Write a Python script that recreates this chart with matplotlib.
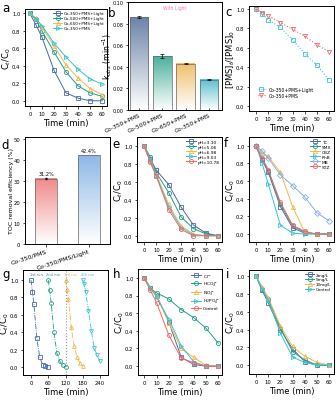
import numpy as np
import matplotlib
matplotlib.use("Agg")
import matplotlib.pyplot as plt
from matplotlib.colors import LinearSegmentedColormap

# colours
NAVY = "#4a6aa6"
TEAL = "#239e8c"
ORANGE = "#f2b84b"
CYAN = "#3cc3d2"
RED = "#f0686b"
LBLUE = "#86aee6"

t = [0, 5, 10, 20, 30, 40, 50, 60]

# panel a
a_labels = ["Co-350+PMS+Light", "Co-500+PMS+Light", "Co-650+PMS+Light", "Co-350+PMS"]
a_350L = [1.0, 0.87, 0.73, 0.35, 0.09, 0.03, 0.0, 0.0]
a_500L = [1.0, 0.93, 0.80, 0.56, 0.33, 0.17, 0.09, 0.05]
a_650L = [1.0, 0.95, 0.84, 0.63, 0.41, 0.26, 0.14, 0.07]
a_350 = [1.0, 0.94, 0.86, 0.66, 0.50, 0.36, 0.25, 0.19]

# panel b
b_labels = ["Co-350+PMS", "Co-500+PMS", "Co-650+PMS", "Co-350+PMS"]
b_k = [0.086, 0.050, 0.043, 0.028]
b_err = [0.0007, 0.0015, 0.0004, 0.0004]

# panel c
c_labels = ["Co-350+PMS+Light", "Co-350+PMS"]
c_light = [1.0, 0.95, 0.89, 0.81, 0.68, 0.54, 0.42, 0.27]
c_dark = [1.0, 0.96, 0.93, 0.86, 0.79, 0.72, 0.63, 0.56]

# panel d
d_labels = ["Co-350/PMS", "Co-350/PMS/Light"]
d_toc = [31.2, 42.4]

# panel e
e_labels = ["pH=3.10", "pH=5.06", "pH=6.98", "pH=9.03", "pH=10.78"]
e_vals = [
    [1.0, 0.85, 0.73, 0.57, 0.32, 0.12, 0.03, 0.0],
    [1.0, 0.88, 0.70, 0.48, 0.21, 0.08, 0.02, 0.0],
    [1.0, 0.83, 0.68, 0.35, 0.11, 0.02, 0.0, 0.0],
    [1.0, 0.84, 0.67, 0.32, 0.09, 0.01, 0.0, 0.0],
    [1.0, 0.82, 0.66, 0.29, 0.07, 0.0, 0.0, 0.0],
]

# panel f
f_labels = ["TC", "SMX", "CBZ", "RhB", "MB", "STZ"]
f_vals = [
    [1.0, 0.84, 0.70, 0.31, 0.07, 0.01, 0.0, 0.0],
    [1.0, 0.85, 0.72, 0.34, 0.09, 0.02, 0.0, 0.0],
    [1.0, 0.92, 0.88, 0.70, 0.31, 0.02, 0.0, 0.0],
    [1.0, 0.80, 0.57, 0.10, 0.01, 0.0, 0.0, 0.0],
    [1.0, 0.94, 0.86, 0.67, 0.55, 0.42, 0.24, 0.15],
    [1.0, 0.86, 0.73, 0.36, 0.10, 0.03, 0.0, 0.0],
]

# panel g (cycling runs)
g_labels = ["1st run", "2nd run", "3rd run", "4th run"]
g_start = [0, 60, 120, 180]
g_vals = [
    [1.0, 0.86, 0.72, 0.34, 0.12, 0.03, 0.01, 0.0],
    [1.0, 0.88, 0.74, 0.40, 0.16, 0.07, 0.02, 0.0],
    [1.0, 0.90, 0.78, 0.46, 0.24, 0.12, 0.05, 0.01],
    [1.0, 0.96, 0.86, 0.65, 0.42, 0.22, 0.14, 0.07],
]

# panel h
h_labels = ["Cl$^-$", "HCO$_3^-$", "NO$_3^-$", "H$_2$PO$_4^-$", "Control"]
h_vals = [
    [1.0, 0.88, 0.80, 0.50, 0.10, 0.02, 0.0, 0.0],
    [1.0, 0.88, 0.83, 0.76, 0.64, 0.55, 0.43, 0.26],
    [1.0, 0.88, 0.80, 0.49, 0.20, 0.10, 0.01, 0.0],
    [1.0, 0.89, 0.78, 0.53, 0.23, 0.05, 0.0, 0.0],
    [1.0, 0.86, 0.72, 0.35, 0.09, 0.04, 0.0, 0.0],
]

# panel i
i_labels = ["2mg/L", "5mg/L", "10mg/L", "Control"]
i_vals = [
    [1.0, 0.84, 0.70, 0.40, 0.18, 0.04, 0.0, 0.0],
    [1.0, 0.86, 0.74, 0.42, 0.15, 0.06, 0.0, 0.0],
    [1.0, 0.88, 0.76, 0.44, 0.21, 0.10, 0.03, 0.0],
    [1.0, 0.86, 0.73, 0.36, 0.09, 0.03, 0.0, 0.0],
]

plt.rcParams["font.family"] = "DejaVu Sans"
plt.rcParams["axes.linewidth"] = 0.7

W, H = 336, 402
fig = plt.figure(figsize=(W / 100, H / 100), dpi=100)

TICK_FS = 3.8
LAB_FS = 6


def make_ax(left, top, right, bottom):
    ax = fig.add_axes([left / W, 1 - bottom / H, (right - left) / W, (bottom - top) / H])
    ax._px_w = right - left
    return ax


def style(ax, fs=TICK_FS):
    ax.tick_params(labelsize=fs, length=1.8, width=0.5, pad=1.5)


def place_ylabel(ax, gap=12):
    # right edge of the rotated label sits `gap` px left of the spine
    ax.yaxis.set_label_coords(-gap / ax._px_w, 0.5)


def curves(ax, series, labels, colors, markers, ms=3, lw=0.7):
    for y, lab, c, m in zip(series, labels, colors, markers):
        ax.plot(t, y, color=c, marker=m, mfc="none", mec=c, ms=ms, mew=0.6, lw=lw, label=lab)


def time_axes(ax, xlim, ylim, ylabel="C$_t$/C$_0$", xticks=(0, 10, 20, 30, 40, 50, 60)):
    ax.set_xlim(*xlim)
    ax.set_ylim(*ylim)
    ax.set_xticks(list(xticks))
    ax.set_yticks([0, 0.2, 0.4, 0.6, 0.8, 1.0])
    style(ax)
    ax.set_xlabel("Time (min)", fontsize=LAB_FS, labelpad=2)
    ax.set_ylabel(ylabel, fontsize=LAB_FS)
    place_ylabel(ax)


def gradient_bar(ax, x, h, w, color):
    cmap = LinearSegmentedColormap.from_list("g", ["white", color])
    grad = np.linspace(0, 1, 100).reshape(-1, 1)
    ax.imshow(grad, cmap=cmap, origin="lower", aspect="auto",
              extent=[x - w / 2, x + w / 2, 0, h], zorder=1)
    ax.add_patch(plt.Rectangle((x - w / 2, 0), w, h, fill=False, ec="#666666", lw=0.5, zorder=2))


def panel_letter(x, y, s):
    fig.text(x / W, 1 - y / H, s, fontsize=8.5, ha="left", va="top")


def small_legend(ax, fs=3.2):
    ax.legend(loc="upper right", fontsize=fs, frameon=False, handlelength=2.2,
              borderaxespad=0.2, labelspacing=0.2, handletextpad=0.4)


# ---- a
ax = make_ax(25, 10, 107, 107)
curves(ax, [a_350L, a_500L, a_650L, a_350], a_labels,
       [NAVY, TEAL, ORANGE, CYAN], ["s", "o", "^", ">"])
time_axes(ax, (-4, 64), (-0.06, 1.05))
small_legend(ax, 3.0)
panel_letter(2, 2, "a")

# ---- b
ax = make_ax(128, 3, 222, 111)
bcols = ["#6d84a8", "#4cb09c", "#f0c068", "#5ac0d2"]
for k, (v, e, c) in enumerate(zip(b_k, b_err, bcols)):
    gradient_bar(ax, k, v, 0.8, c)
    ax.errorbar(k, v, yerr=e, color="black", capsize=1.2, lw=0.5, capthick=0.5, zorder=3)
ax.set_xlim(-0.47, 3.55)
ax.set_ylim(0, 0.1)
ax.set_xticks(range(4))
ax.set_xticklabels(b_labels, rotation=25, ha="right", rotation_mode="anchor")
ax.set_yticks([0, 0.02, 0.04, 0.06, 0.08, 0.10])
style(ax, 3.5)
ax.tick_params(axis="x", labelsize=4.2, direction="in")
ax.set_ylabel("k$_{obs}$ (min$^{-1}$)", fontsize=5.5)
place_ylabel(ax, 14)
ax.text(0.5, 0.95, "With Light", transform=ax.transAxes, ha="center", va="center",
        fontsize=3.3, color="#f07ac0")
panel_letter(108, 7, "b")

# ---- c
ax = make_ax(249, 7, 334, 112)
ax.plot(t, c_light, color=CYAN, marker="s", mfc="none", ms=3, mew=0.6, lw=0.8, ls=":", label=c_labels[0])
ax.plot(t, c_dark, color=RED, marker="v", mfc="none", ms=3, mew=0.6, lw=0.8, ls=":", label=c_labels[1])
time_axes(ax, (-5.8, 64), (-0.05, 1.03), "[PMS]$_t$/[PMS]$_0$")
ax.legend(loc="lower left", fontsize=3.3, frameon=False, handlelength=1.5,
          borderaxespad=0.6, labelspacing=0.3, bbox_to_anchor=(0.05, 0.08))
panel_letter(225, 6, "c")

# ---- d
ax = make_ax(25, 138, 110, 245)
dcols = ["#f08a8a", "#8fb8e6"]
for k, (v, c) in enumerate(zip(d_toc, dcols)):
    gradient_bar(ax, k, v, 0.5, c)
    ax.text(k, v + 1.2, f"{v}%", ha="center", va="bottom", fontsize=3.6)
ax.errorbar(0, d_toc[0], yerr=0.4, color="black", capsize=1, lw=0.5, zorder=3)
ax.set_xlim(-0.49, 1.49)
ax.set_ylim(0, 51)
ax.set_xticks([0, 1])
ax.set_xticklabels(d_labels, rotation=18, ha="right", rotation_mode="anchor")
ax.set_yticks([0, 10, 20, 30, 40, 50])
style(ax)
ax.tick_params(axis="x", labelsize=4.5)
ax.set_ylabel("TOC removal efficiency (%)", fontsize=4.5)
place_ylabel(ax, 11)
panel_letter(1, 139, "d")

# ---- e
ax = make_ax(137, 138, 222, 243)
curves(ax, e_vals, e_labels, [NAVY, TEAL, ORANGE, CYAN, RED], ["s", "o", "^", ">", "o"])
time_axes(ax, (-5.7, 63.2), (-0.07, 1.1))
small_legend(ax)
panel_letter(112, 138, "e")

# ---- f
ax = make_ax(249, 138, 334, 243)
curves(ax, f_vals, f_labels, [NAVY, TEAL, ORANGE, CYAN, LBLUE, RED], ["s", "o", "^", ">", "D", "o"])
time_axes(ax, (-5.8, 64), (-0.09, 1.1))
small_legend(ax)
panel_letter(224, 137, "f")

# ---- g
ax = make_ax(23, 271, 108, 376)
gcols = [NAVY, TEAL, ORANGE, CYAN]
gmarks = ["s", "o", "^", "v"]
for s0, y, lab, c, m in zip(g_start, g_vals, g_labels, gcols, gmarks):
    ax.plot(np.array(t) + s0, y, color=c, marker=m, mfc="none", ms=2.8, mew=0.6, lw=0.6, ls="-.")
    ax.text(s0 + 18, 1.07, lab, color=c, fontsize=2.6, ha="center", va="center")
ax.axvline(120, color="#999999", ls=":", lw=0.8)
time_axes(ax, (-28, 268), (-0.09, 1.115), xticks=(0, 60, 120, 180, 240))
panel_letter(2, 268, "g")

# ---- h
ax = make_ax(138, 270, 222, 376)
curves(ax, h_vals, h_labels, [NAVY, TEAL, ORANGE, CYAN, RED], ["s", "o", "^", ">", "o"])
time_axes(ax, (-5, 63), (-0.1, 1.1))
small_legend(ax)
panel_letter(113, 268, "h")

# ---- i
ax = make_ax(249, 271, 334, 375)
curves(ax, i_vals, i_labels, [NAVY, TEAL, ORANGE, CYAN], ["s", "o", "^", ">"])
time_axes(ax, (-5.8, 64), (-0.1, 1.07))
small_legend(ax, 3.0)
panel_letter(226, 268, "i")

fig.savefig("out.png", dpi=100)
